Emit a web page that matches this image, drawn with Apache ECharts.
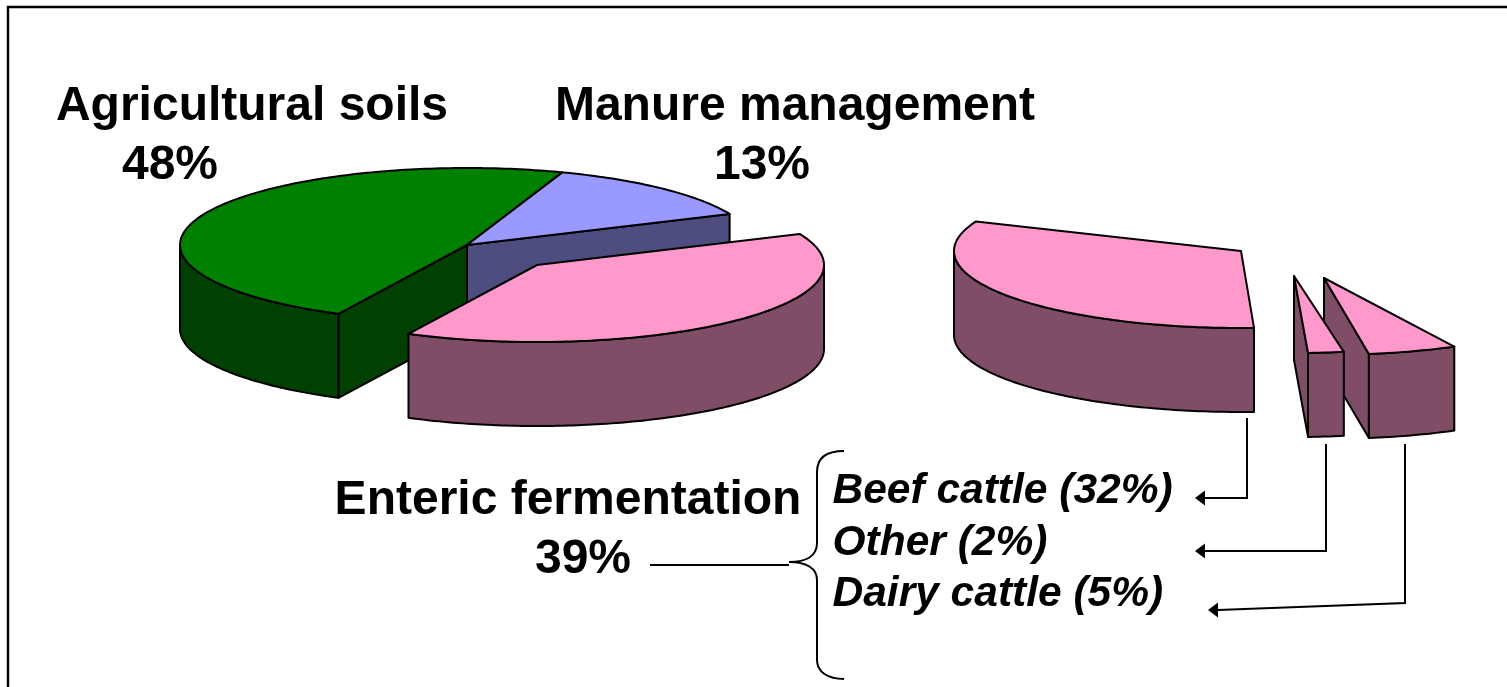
<!DOCTYPE html>
<html><head><meta charset="utf-8">
<style>html,body{margin:0;padding:0;background:#fff}#c{width:1507px;height:687px}</style>
<script src="https://cdn.jsdelivr.net/npm/echarts@6/dist/echarts.min.js"></script>
</head><body><div id="c"></div>
<script>
// ---- data ----
const mainNames = ['Agricultural soils', 'Manure management', 'Enteric fermentation'];
const mainValues = [48, 13, 39];
const subNames = ['Beef cattle', 'Dairy cattle', 'Other'];
const subValues = [32, 5, 2];

// ---- layout (pixels and angles, clockwise from 12 o'clock) ----
const RX = 287, RY = 77, DEPTH = 84;
const PCT = 3.6;
const mainStart = 206.6;             // green slice begins here and wraps past 360
const subEnds = [292.6, 171, 177.2]; // where each broken-out slice ends
const mainCentre = [[467, 245], [467, 245], [537, 265]];
const subCentre = [[1241, 251], [1324, 278], [1294, 276]];
const colours = {
  green: ['#008000', '#004000'],
  blue: ['#9999FF', '#4D4D80'],
  pink: ['#FF99CC', '#804D66']
};
const mainColours = ['green', 'blue', 'pink'];

function buildSlices() {
  const out = [];
  let a = mainStart;
  mainValues.forEach((v, i) => {
    const a0 = a % 360;
    out.push({ name: mainNames[i], value: v, a0, a1: a0 + v * PCT, c: mainCentre[i], col: colours[mainColours[i]] });
    a += v * PCT;
  });
  subValues.forEach((v, i) => {
    out.push({ name: subNames[i], value: v, a0: subEnds[i] - v * PCT, a1: subEnds[i], c: subCentre[i], col: colours.pink });
  });
  return out;
}
const slices = buildSlices();

function pt(c, a) {
  const r = a * Math.PI / 180;
  return [c[0] + RX * Math.sin(r), c[1] - RY * Math.cos(r)];
}
function poly(points, fill) {
  return { type: 'polygon', shape: { points }, style: { fill, stroke: '#000', lineWidth: 2, lineJoin: 'round' } };
}
function renderSlice(params, api) {
  const s = slices[params.dataIndex];
  const kids = [];
  const down = p => [p[0], p[1] + DEPTH];
  const faceVisible = n => -Math.cos(n * Math.PI / 180) > 0;
  // radial cut faces
  [[s.a0, s.a0 - 90], [s.a1, s.a1 + 90]].forEach(([edge, normal]) => {
    if (faceVisible(normal)) {
      const e = pt(s.c, edge);
      kids.push(poly([s.c, e, down(e), down(s.c)], s.col[1]));
    }
  });
  // outer wall: the part of the rim on the front half (90..270)
  const w0 = Math.max(s.a0, 90), w1 = Math.min(s.a1, 270);
  if (w1 > w0) {
    const top = [], bottom = [];
    for (let a = w0; a < w1; a += 1) top.push(pt(s.c, a));
    top.push(pt(s.c, w1));
    top.forEach(p => bottom.unshift(down(p)));
    kids.push(poly(top.concat(bottom), s.col[1]));
  }
  // top face
  const face = [s.c];
  for (let a = s.a0; a < s.a1; a += 1) face.push(pt(s.c, a));
  face.push(pt(s.c, s.a1));
  kids.push(poly(face, s.col[0]));
  return { type: 'group', children: kids };
}

// ---- annotations ----
const FONT = '"Liberation Sans", Arial, sans-serif';
function txt(t, x, y, size, italic) {
  return { type: 'text', x, y, silent: true, z: 5,
    style: { text: t, fill: '#000', font: (italic ? 'italic ' : '') + 'bold ' + size + 'px ' + FONT, textAlign: 'center', textVerticalAlign: 'bottom' } };
}
function ltxt(t, x, y, size) {
  const e = txt(t, x, y, size, true); e.style.textAlign = 'left'; return e;
}
function line(points, w) {
  return { type: 'polyline', silent: true, z: 5, shape: { points }, style: { stroke: '#000', lineWidth: w || 2, fill: null } };
}
function curve(x1, y1, cx1, cy1, cx2, cy2, x2, y2) {
  return { type: 'bezierCurve', silent: true, z: 5, shape: { x1, y1, cpx1: cx1, cpy1: cy1, cpx2: cx2, cpy2: cy2, x2, y2 }, style: { stroke: '#000', lineWidth: 2, fill: null } };
}
function arrow(points) {
  const [tx, ty] = points[points.length - 1];
  return [line(points),
    { type: 'polygon', silent: true, z: 5, shape: { points: [[tx - 10, ty], [tx, ty - 7.5], [tx, ty + 7.5]] }, style: { fill: '#000' } }];
}
const main = (i) => mainValues[i] + '%';
const sub = (i) => subNames[i] + ' (' + subValues[i] + '%)';
const TB = 10, IB = 9; // descent below baseline for the bottom-aligned text
const elements = [
  line([[8, 687], [8, 7], [1507, 7]], 2.4),
  txt(mainNames[0], 252, 120.6 + TB, 48),
  txt(main(0), 170, 179.6 + TB, 48),
  txt(mainNames[1], 795, 120.6 + TB, 48),
  txt(main(1), 762, 179.6 + TB, 48),
  txt(mainNames[2], 568, 514.5 + TB, 48),
  txt(main(2), 583, 574 + TB, 48),
  ltxt(sub(0), 832.5, 504 + IB, 42.5),
  ltxt(sub(2), 832.5, 556 + IB, 42.5),
  ltxt(sub(1), 832.5, 607 + IB, 42.5),
  line([[650, 565], [789, 565]]),
  curve(844, 451, 826, 451, 817, 458, 817, 472),
  line([[817, 472], [817, 543]]),
  curve(817, 543, 817, 556, 806, 562, 789, 562),
  curve(789, 562, 806, 562, 817, 568, 817, 580),
  line([[817, 580], [817, 660]]),
  curve(817, 660, 817, 672, 828, 679, 844, 679),
  ...arrow([[1247, 418], [1247, 498], [1205, 498]]),
  ...arrow([[1326, 444], [1326, 551], [1205, 551]]),
  ...arrow([[1405, 444], [1405, 603], [1218, 610]])
];

const chart = echarts.init(document.getElementById('c'), null, { renderer: 'canvas' });
chart.setOption({
  animation: false,
  backgroundColor: '#fff',
  graphic: { elements },
  series: [{
    type: 'custom',
    coordinateSystem: 'none',
    renderItem: renderSlice,
    data: slices.map(s => ({ name: s.name, value: s.value })),
    silent: true
  }]
});
</script></body></html>
